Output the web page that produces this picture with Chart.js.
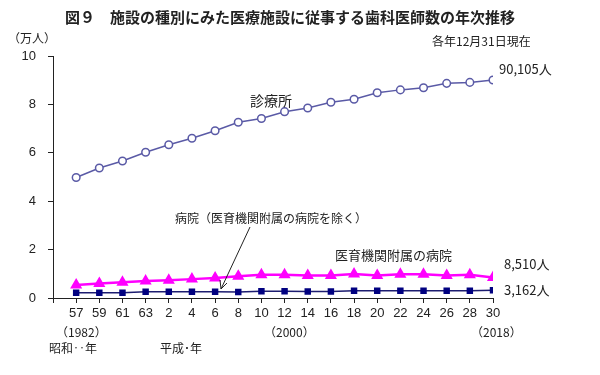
<!DOCTYPE html>
<html lang="ja">
<head>
  <meta charset="UTF-8" />
  <title>歯科医師数の年次推移</title>
  <script src="https://cdn.jsdelivr.net/npm/chart.js"></script>
  <style>
    body { margin: 0; background: #fff; }
    #wrap { width: 600px; height: 375px; }
  </style>
</head>
<body>
  <div id="wrap"><canvas id="chart"></canvas></div>
  <script>
    // 昭和57年(1982)〜平成30年(2018)、2年ごと
    const years = ["57", "59", "61", "63", "2", "4", "6", "8", "10", "12", "14", "16", "18", "20", "22", "24", "26", "28", "30"];
    // 単位：万人
    const clinic = [4.98, 5.37, 5.66, 6.02, 6.33, 6.6, 6.91, 7.26, 7.42, 7.7, 7.85, 8.09, 8.21, 8.48, 8.6, 8.69, 8.87, 8.91, 9.0105];
    const univHospital = [0.54, 0.6, 0.65, 0.7, 0.73, 0.78, 0.83, 0.9, 0.96, 0.96, 0.93, 0.93, 0.99, 0.93, 0.98, 0.98, 0.93, 0.96, 0.851];
    const otherHospital = [0.22, 0.22, 0.22, 0.26, 0.26, 0.26, 0.26, 0.25, 0.28, 0.28, 0.27, 0.27, 0.3, 0.3, 0.3, 0.3, 0.3, 0.3, 0.3162];
    const yTicks = [0, 2, 4, 6, 8, 10];

    const jp = '"Noto Sans CJK JP", sans-serif';
    const num = '"Liberation Sans", Arial, sans-serif';
    const toPoints = arr => arr.map((v, i) => ({ x: i, y: v }));

    // 文字・矢印などの注記
    const notes = {
      id: 'notes',
      afterDraw(chart) {
        const c = chart.ctx;
        c.save();
        c.fillStyle = '#222';
        c.textBaseline = 'middle';
        c.textAlign = 'left';
        c.font = 'bold 15px ' + jp;
        c.fillText('図９　施設の種別にみた医療施設に従事する歯科医師数の年次推移', 65, 17);
        c.font = '12px ' + jp;
        c.fillText('（万人）', 8, 38);
        c.fillText('各年12月31日現在', 432, 41);
        c.font = '14px ' + jp;
        c.fillText('診療所', 250, 101);
        c.font = '12px ' + jp;
        c.fillText('病院（医育機関附属の病院を除く）', 175, 218);
        c.font = '13px ' + jp;
        c.fillText('医育機関附属の病院', 335, 255);
        c.fillText('90,105人', 499, 69);
        c.fillText('8,510人', 504, 264);
        c.fillText('3,162人', 504, 290);
        c.font = '12px ' + jp;
        c.fillText('（1982）', 56, 332);
        c.fillText('（2000）', 264, 332);
        c.fillText('（2018）', 471, 332);
        c.fillText('昭和‥年', 49, 348);
        c.fillText('平成･年', 160, 348);
        // 矢印
        c.strokeStyle = '#222';
        c.lineWidth = 1;
        c.beginPath();
        c.moveTo(250, 227);
        c.lineTo(221, 289);
        c.stroke();
        c.beginPath();
        c.moveTo(221, 289);
        c.lineTo(220, 280);
        c.moveTo(221, 289);
        c.lineTo(227, 283);
        c.stroke();
        c.restore();
      }
    };

    new Chart(document.getElementById('chart'), {
      type: 'line',
      data: {
        datasets: [
          {
            label: '診療所',
            data: toPoints(clinic),
            borderColor: '#5a5aa6',
            borderWidth: 1.5,
            pointStyle: 'circle',
            pointRadius: 3.8,
            pointBackgroundColor: '#fff',
            pointBorderColor: '#5a5aa6',
            pointBorderWidth: 1.5
          },
          {
            label: '医育機関附属の病院',
            data: toPoints(univHospital),
            borderColor: '#ff00ff',
            borderWidth: 2.5,
            pointStyle: 'triangle',
            pointRadius: 4.5,
            pointBackgroundColor: '#ff00ff',
            pointBorderColor: '#ff00ff'
          },
          {
            label: '病院（医育機関附属の病院を除く）',
            data: toPoints(otherHospital),
            borderColor: '#1c1c70',
            borderWidth: 1.5,
            pointStyle: 'rect',
            pointRadius: 3.5,
            pointBackgroundColor: '#000080',
            pointBorderColor: '#000080'
          }
        ]
      },
      options: {
        responsive: true,
        maintainAspectRatio: false,
        animation: false,
        layout: { padding: { top: 56, right: 107, left: 0, bottom: 0 } },
        plugins: { legend: { display: false }, tooltip: { enabled: false } },
        scales: {
          x: {
            type: 'linear',
            min: -1,
            max: years.length - 1,
            afterFit: s => { s.height = 77; },
            afterBuildTicks: s => { s.ticks = years.map((_, i) => ({ value: i })).concat([{ value: -1 }]); },
            ticks: {
              autoSkip: false,
              maxRotation: 0,
              color: '#222',
              font: { family: num, size: 13 },
              padding: 3,
              callback: v => (v >= 0 ? years[v] : '')
            },
            grid: { drawOnChartArea: false, tickLength: 5, color: '#222' },
            border: { color: '#222', width: 1 }
          },
          y: {
            min: 0,
            max: 10,
            afterFit: s => { s.width = 53; },
            afterBuildTicks: s => { s.ticks = yTicks.map(v => ({ value: v })); },
            ticks: {
              color: '#222',
              font: { family: num, size: 13 },
              padding: 12
            },
            grid: { drawOnChartArea: false, tickLength: 5, color: '#222' },
            border: { color: '#222', width: 1 }
          }
        }
      },
      plugins: [notes]
    });
  </script>
</body>
</html>
